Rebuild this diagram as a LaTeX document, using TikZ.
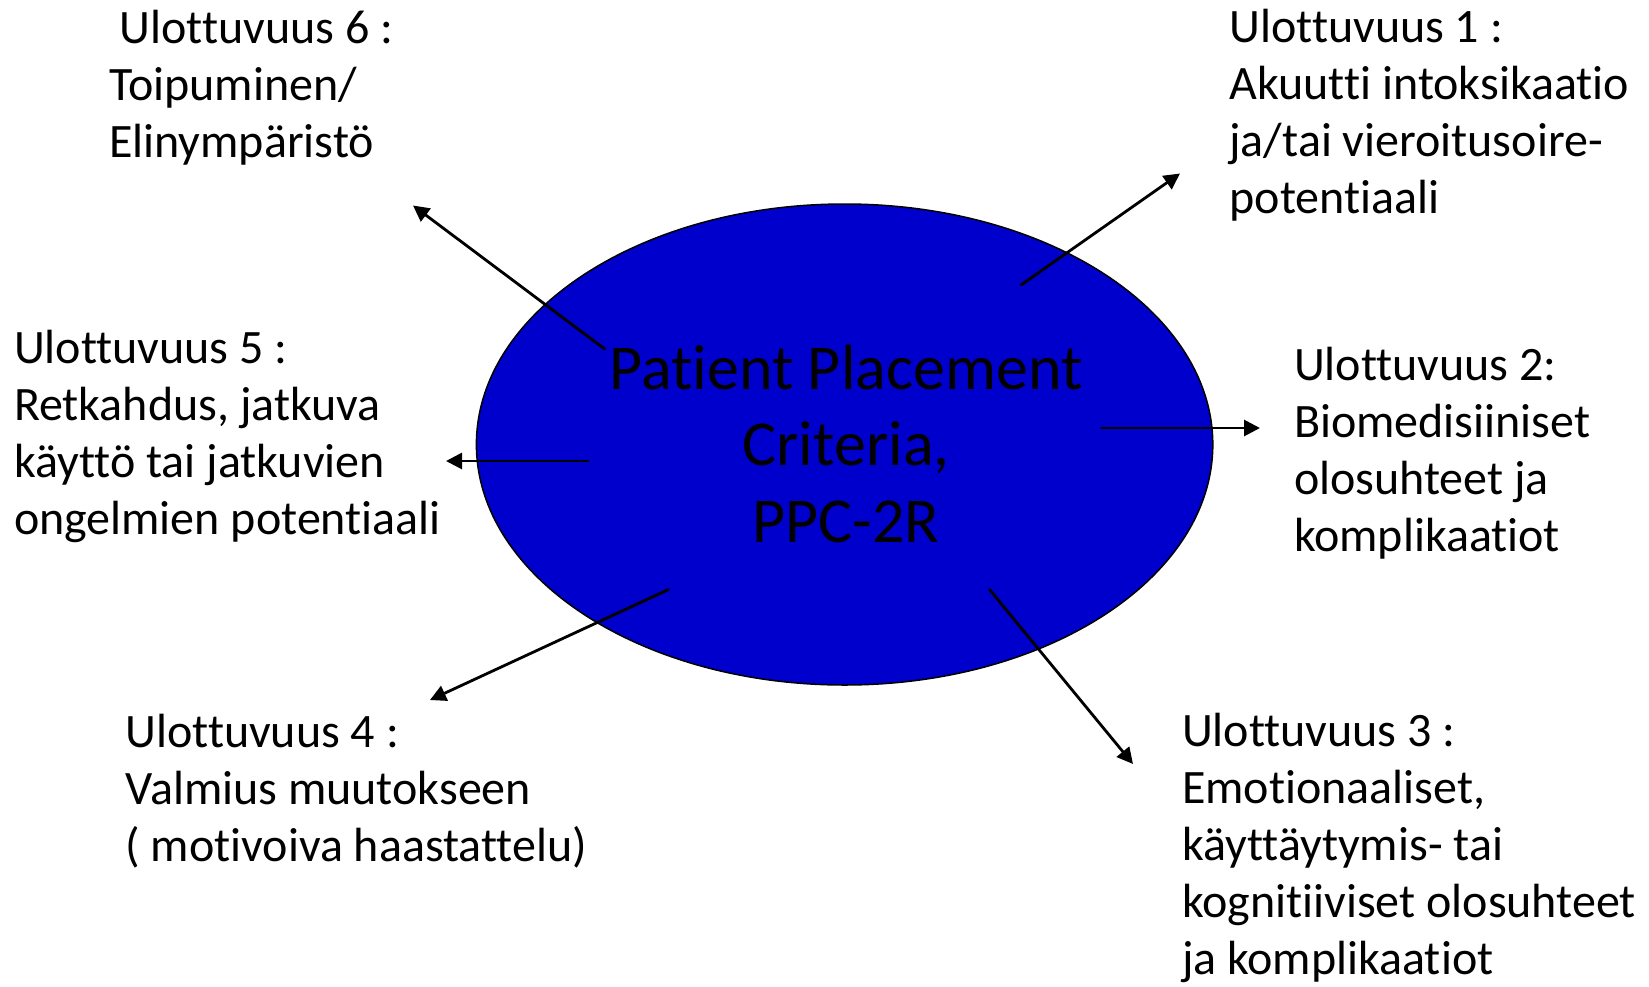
\documentclass[tikz,border=0pt]{standalone}
\usepackage{fontspec}
\setmainfont[Ligatures = {NoCommon}]{Carlito}
\usetikzlibrary{arrows.meta}
\definecolor{ppcblue}{RGB}{0,0,204}

\begin{document}
\begin{tikzpicture}[%
        x = 0.5pt,
        y = -0.5pt,
        line cap = round,
        > = {Triangle[length = 8pt, width = 8pt]},
        every edge/.style = {%
            draw = black,
            line width = 1.4pt
        },
        dimlabel/.style = {
            align = left,
            anchor = base west,
            inner sep = 0,
            outer sep = 0,
            font = \fontsize{24}{28.5}\selectfont
        },
        centretext/.style = {
            align = center,
            anchor = base,
            inner sep = 0,
            outer sep = 0,
            font = \fontsize{32}{38.3}\selectfont
        }
    ]

        \useasboundingbox (0, 0) rectangle (1649, 986);

        % The central ellipse (text placed by its last baseline).
        \draw[fill = ppcblue, line width = 0.75pt]
            (844.6, 444.5) ellipse [x radius = 368.2, y radius = 240.5];
        \node[centretext] (ppc) at (846, 542.5)
            {Patient Placement\\Criteria,\\PPC-2R};

        % Start points of the arrows, inside the ellipse.
        \coordinate (s1) at (1021.0, 285.0);
        \coordinate (s2) at (1101.5, 428.0);
        \coordinate (s3) at (989.5, 589.5);
        \coordinate (s4) at (668.5, 589.5);
        \coordinate (s5) at (588.5, 461.0);
        \coordinate (s6) at (604.7, 349.0);

        % End points of the arrows.
        \coordinate (e1) at (1180.0, 173.5);
        \coordinate (e2) at (1260.0, 428.0);
        \coordinate (e3) at (1133.0, 764.0);
        \coordinate (e4) at (430.0, 700.0);
        \coordinate (e5) at (446.0, 461.0);
        \coordinate (e6) at (413.0, 205.5);

        % Labels of the six dimensions (placed by their last baseline).
        \node[dimlabel] (dim1) at (1229.5, 213.7)
            {Ulottuvuus 1 :\\Akuutti intoksikaatio\\ja/tai vieroitusoire-\\potentiaali};
        \node[dimlabel] (dim2) at (1294.0, 551.0)
            {Ulottuvuus 2:\\Biomedisiiniset\\olosuhteet ja\\komplikaatiot};
        \node[dimlabel] (dim3) at (1182.0, 974.7)
            {Ulottuvuus 3 :\\Emotionaaliset,\\käyttäytymis- tai\\kognitiiviset olosuhteet\\ja komplikaatiot};
        \node[dimlabel] (dim4) at (125.5, 861.7)
            {Ulottuvuus 4 :\\Valmius muutokseen\\( motivoiva haastattelu)};
        \node[dimlabel] (dim5) at (14.0, 534.3)
            {Ulottuvuus 5 :\\Retkahdus, jatkuva\\käyttö tai jatkuvien\\ongelmien potentiaali};
        \node[dimlabel] (dim6) at (109.0, 157.0)
            {~Ulottuvuus 6 :\\Toipuminen/\\Elinympäristö};

        % Draw the arrows out of the ellipse.
        \begin{scope}[->]
            \path (s1) edge (e1);
            \path (s2) edge (e2);
            \path (s3) edge (e3);
            \path (s4) edge (e4);
            \path (s5) edge (e5);
            \path (s6) edge (e6);
        \end{scope}
    \end{tikzpicture}
\end{document}
